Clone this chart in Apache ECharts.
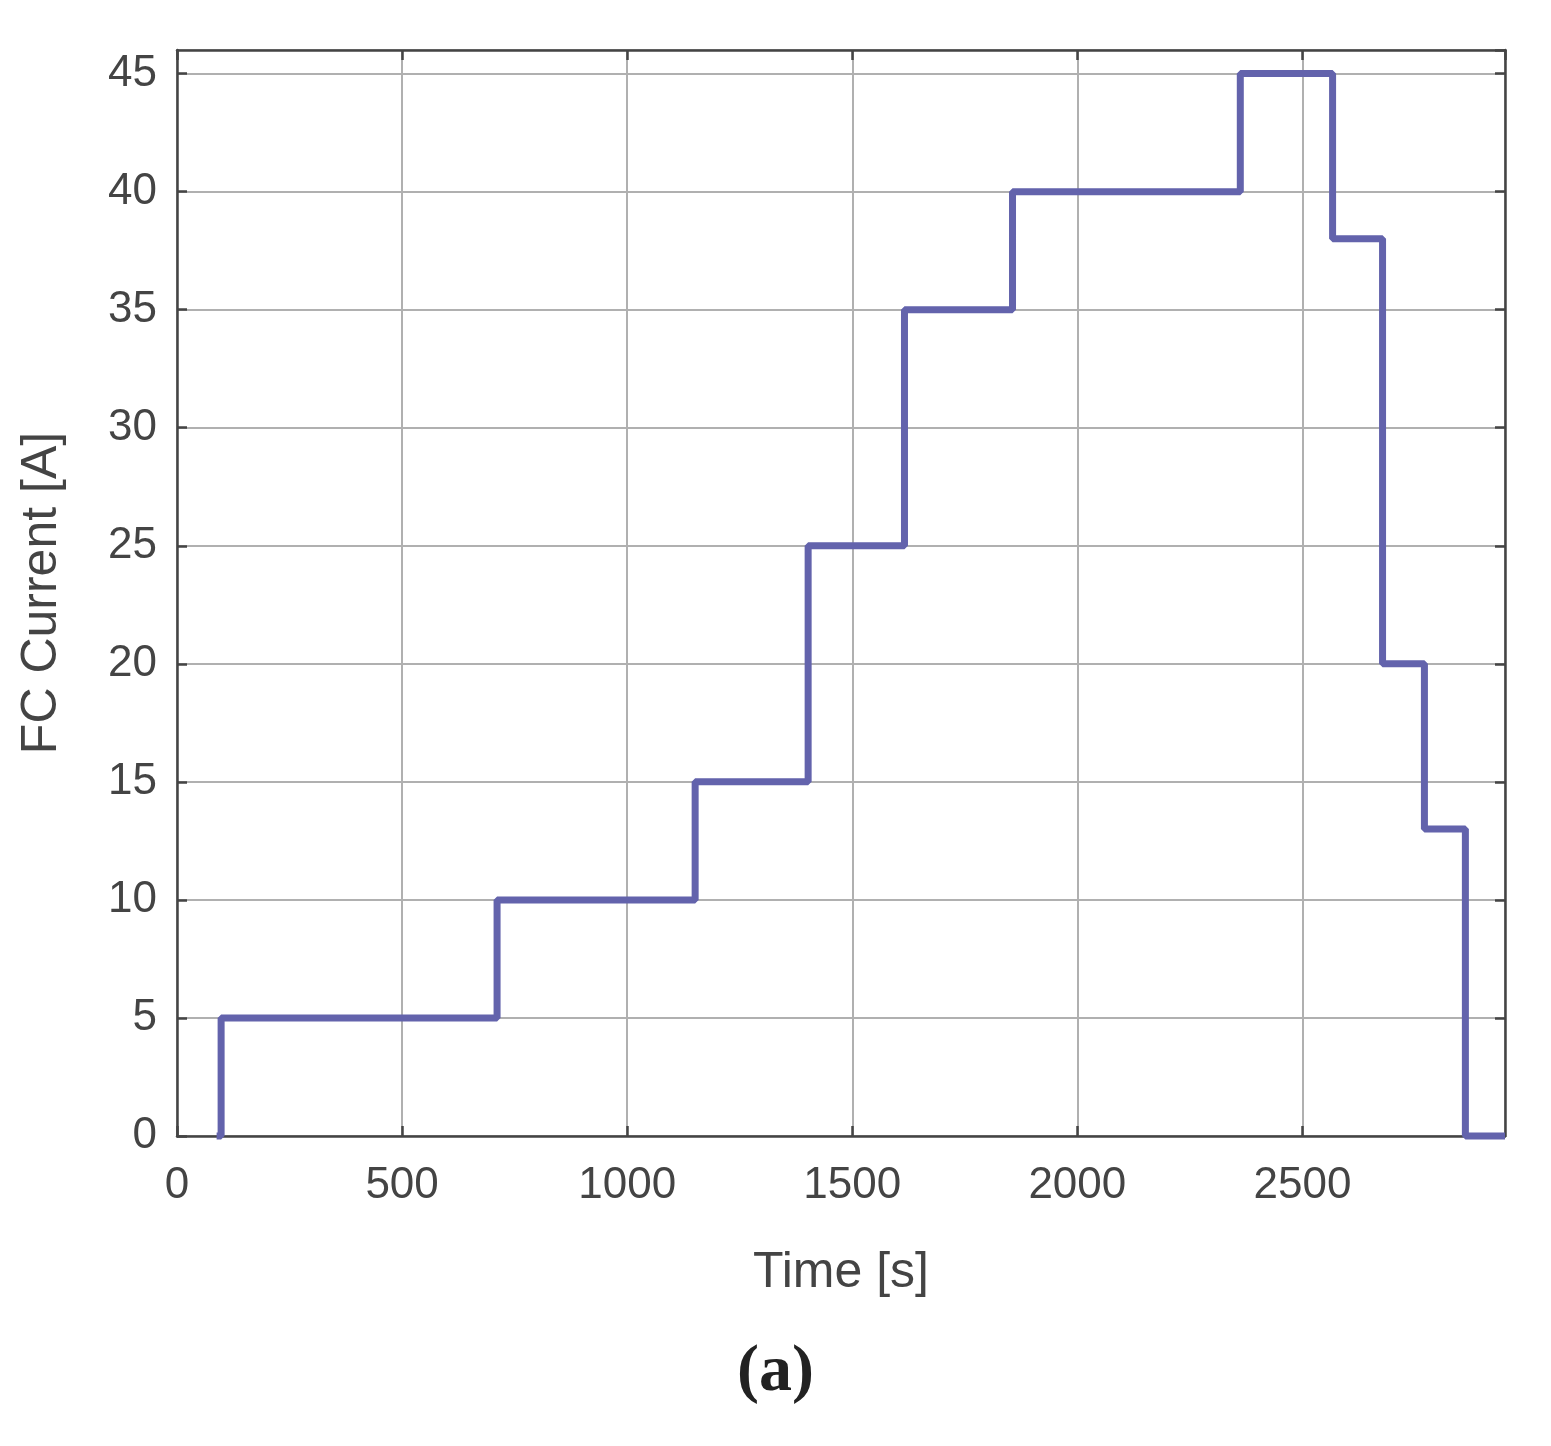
<!DOCTYPE html>
<html><head><meta charset="utf-8">
<script src="https://cdn.jsdelivr.net/npm/echarts@6/dist/echarts.min.js"></script>
<style>html,body{margin:0;padding:0;background:#fff}#c{width:1551px;height:1446px}</style>
</head><body><div id="c"></div>
<script>
const times = [88, 98, 711, 1151, 1402, 1616, 1856, 2362, 2567, 2678, 2771, 2862, 2950];
const currents = [0, 5, 10, 15, 25, 35, 40, 45, 38, 20, 13, 0, 0];
const data = times.map((t, i) => [t, currents[i]]);
const font = 'Liberation Sans';
const chart = echarts.init(document.getElementById('c'));
const axLine = () => ({show: true, onZero: false, lineStyle: {color: '#444', width: 2.5}});
const tick = () => ({show: true, inside: true, length: 10, lineStyle: {color: '#444', width: 2.5}});
chart.setOption({
  animation: false,
  grid: {left: 177, top: 50, right: 46, bottom: 310, containLabel: false},
  xAxis: [{
    type: 'value', min: 0, max: 2950, interval: 500,
    name: 'Time [s]', nameLocation: 'middle', nameGap: 112,
    nameTextStyle: {fontFamily: font, fontSize: 50, color: '#444'},
    axisLabel: {fontFamily: font, fontSize: 44, color: '#444', margin: 28, showMaxLabel: false, formatter: v => String(v)},
    axisLine: axLine(), axisTick: tick(),
    splitLine: {show: true, lineStyle: {color: '#b0b0b0', width: 2}}
  }, {
    type: 'value', position: 'top', min: 0, max: 2950, interval: 500,
    axisLabel: {show: false}, axisLine: axLine(), axisTick: tick(), splitLine: {show: false}
  }],
  yAxis: [{
    type: 'value', min: 0, max: 46, interval: 5,
    name: 'FC Current [A]', nameLocation: 'middle', nameGap: 110,
    nameTextStyle: {fontFamily: font, fontSize: 50, color: '#444'},
    axisLabel: {fontFamily: font, fontSize: 44, color: '#444', margin: 20, showMaxLabel: false},
    axisLine: axLine(), axisTick: tick(),
    splitLine: {show: true, lineStyle: {color: '#b0b0b0', width: 2}}
  }, {
    type: 'value', position: 'right', min: 0, max: 46, interval: 5,
    axisLabel: {show: false}, axisLine: axLine(), axisTick: tick(), splitLine: {show: false}
  }],
  series: [{
    type: 'line', step: 'end', data: data, showSymbol: false,
    lineStyle: {color: '#6363ac', width: 7}, clip: false
  }],
  graphic: [{
    type: 'text', left: 'center', top: 1340,
    style: {text: '(a)', font: 'bold 66px "Liberation Serif"', fill: '#222'}
  }]
});
</script></body></html>
